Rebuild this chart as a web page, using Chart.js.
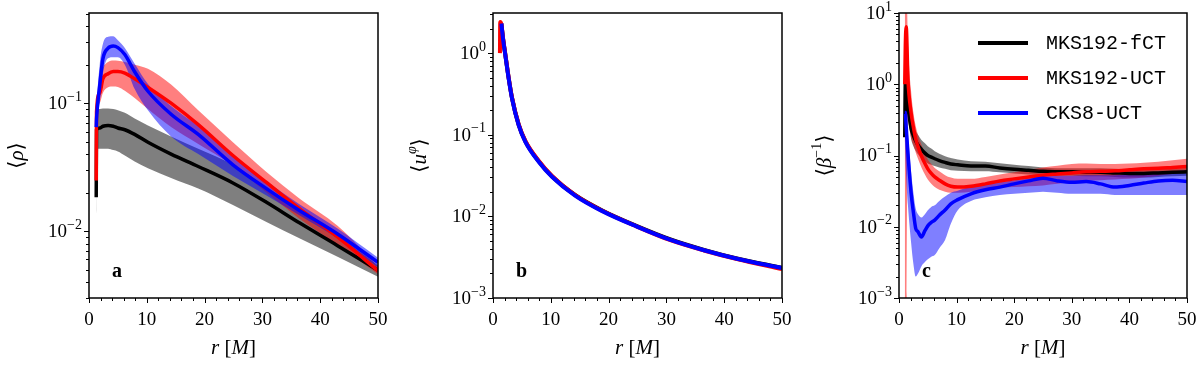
<!DOCTYPE html>
<html>
<head>
<meta charset="utf-8">
<script src="https://cdn.jsdelivr.net/npm/chart.js@4.4.0/dist/chart.umd.min.js"></script>
<style>
  html, body { margin: 0; padding: 0; background: #fff; }
  #wrap { position: relative; width: 1200px; height: 366px; }
  .panel { position: absolute; top: 0; width: 400px; height: 366px; }
</style>
</head>
<body>
<div id="wrap">
  <div class="panel" style="left:0"><canvas id="rhoChart"></canvas></div>
  <div class="panel" style="left:400px"><canvas id="uphiChart"></canvas></div>
  <div class="panel" style="left:800px"><canvas id="betaChart"></canvas></div>
</div>
<script>
// run names
const runNames = ["MKS192-fCT", "MKS192-UCT", "CKS8-UCT"];
const xTickLabels = [0, 10, 20, 30, 40, 50];

// panel a: <rho>
const rA = [1.25, 1.3, 1.85, 2.4, 3.3, 4.2, 5.0, 6.2, 7.9, 10.2, 14.2, 18.9, 24.9, 30.7, 36.4, 43, 50];
const rhoFct   = [0.0184, 0.062, 0.064, 0.066, 0.067, 0.066, 0.064, 0.062, 0.057, 0.0495, 0.04, 0.032, 0.0238, 0.0168, 0.0116, 0.0077, 0.00495];
const rhoFctHi = [0.09, 0.09, 0.09, 0.091, 0.091, 0.09, 0.088, 0.084, 0.076, 0.067, 0.055, 0.044, 0.033, 0.022, 0.0147, 0.0092, 0.0054];
const rhoFctLo = [0.0136, 0.044, 0.044, 0.044, 0.044, 0.043, 0.042, 0.039, 0.035, 0.031, 0.026, 0.0215, 0.016, 0.0118, 0.0088, 0.0063, 0.0044];
const rhoUct   = [0.0249, 0.085, 0.12, 0.155, 0.17, 0.177, 0.177, 0.172, 0.155, 0.133, 0.1, 0.068, 0.039, 0.024, 0.015, 0.009, 0.0049];
const rhoUctHi = [0.096, 0.096, 0.16, 0.19, 0.21, 0.216, 0.215, 0.21, 0.2, 0.186, 0.14, 0.088, 0.0495, 0.029, 0.018, 0.011, 0.0053];
const rhoUctLo = [0.0249, 0.07, 0.1, 0.12, 0.133, 0.135, 0.134, 0.125, 0.11, 0.09, 0.065, 0.048, 0.0326, 0.02, 0.0125, 0.0078, 0.0046];
const rhoCks   = [0.065, 0.075, 0.137, 0.222, 0.269, 0.28, 0.272, 0.24, 0.176, 0.124, 0.082, 0.057, 0.033, 0.0215, 0.0145, 0.0095, 0.0057];
const rhoCksHi = [0.07, 0.085, 0.2, 0.29, 0.33, 0.333, 0.31, 0.27, 0.203, 0.141, 0.095, 0.066, 0.038, 0.0245, 0.0162, 0.0105, 0.0062];
const rhoCksLo = [0.06, 0.065, 0.1, 0.17, 0.225, 0.229, 0.229, 0.2, 0.129, 0.088, 0.055, 0.04, 0.027, 0.019, 0.0133, 0.0088, 0.0052];

// panel b: <u^phi>
const rB = [1.2, 1.25, 1.45, 1.73, 2.13, 2.71, 3.29, 4.44, 5.6, 7.9, 10.2, 14.2, 18.9, 24.9, 30.7, 36.5, 42.2, 50];
const uphiFct = [null, null, 2.3, 1.52, 0.96, 0.495, 0.282, 0.133, 0.083, 0.0475, 0.031, 0.0183, 0.0118, 0.0076, 0.00522, 0.00389, 0.00305, 0.00234];
const uphiUct = [1.0, 2.4, 2.25, 1.53, 0.97, 0.5, 0.285, 0.134, 0.084, 0.048, 0.0313, 0.0182, 0.0117, 0.0075, 0.0051, 0.00382, 0.003, 0.00226];
const uphiCks = [null, null, 2.3, 1.5, 0.946, 0.489, 0.279, 0.131, 0.082, 0.0467, 0.0306, 0.018, 0.0116, 0.0075, 0.00515, 0.00385, 0.00303, 0.00233];

// panel c: <beta^-1>
const rC = [1.0, 1.1, 1.25, 1.55, 2.1, 2.5, 2.9, 3.3, 3.9, 4.5, 5.0, 5.6, 6.2, 7.0, 8.0, 9.0, 10.2, 12.5, 15, 17.5, 20, 22.5, 25, 27.5, 30, 32.5, 35, 37.5, 40, 42.5, 45, 47.5, 50];
const betaFct   = [0.18, 1.09, 1.0, 0.5, 0.24, 0.19, 0.16, 0.14, 0.122, 0.108, 0.1, 0.095, 0.09, 0.085, 0.08, 0.076, 0.074, 0.071, 0.071, 0.067, 0.064, 0.062, 0.06, 0.059, 0.059, 0.058, 0.058, 0.057, 0.056, 0.056, 0.057, 0.058, 0.059];
const betaFctHi = [0.18, 1.2, 1.1, 0.65, 0.33, 0.26, 0.22, 0.195, 0.165, 0.148, 0.135, 0.125, 0.115, 0.106, 0.098, 0.092, 0.088, 0.083, 0.082, 0.078, 0.074, 0.071, 0.068, 0.066, 0.066, 0.066, 0.066, 0.065, 0.064, 0.064, 0.065, 0.066, 0.067];
const betaFctLo = [0.15, 0.18, 0.6, 0.35, 0.17, 0.135, 0.117, 0.104, 0.092, 0.083, 0.077, 0.074, 0.071, 0.068, 0.065, 0.062, 0.061, 0.06, 0.06, 0.058, 0.056, 0.054, 0.053, 0.052, 0.052, 0.051, 0.051, 0.05, 0.049, 0.049, 0.05, 0.051, 0.052];
const betaUct   = [1.0, 3.5, 6.4, 1.2, 0.4, 0.25, 0.17, 0.133, 0.098, 0.077, 0.065, 0.056, 0.05, 0.045, 0.04, 0.037, 0.036, 0.037, 0.04, 0.044, 0.047, 0.05, 0.053, 0.055, 0.057, 0.059, 0.06, 0.061, 0.063, 0.065, 0.066, 0.068, 0.07];
const betaUctHi = [30, 30, 30, 4, 0.8, 0.4, 0.26, 0.195, 0.14, 0.105, 0.088, 0.076, 0.067, 0.06, 0.053, 0.049, 0.047, 0.047, 0.05, 0.054, 0.058, 0.063, 0.068, 0.072, 0.076, 0.077, 0.076, 0.076, 0.077, 0.079, 0.082, 0.086, 0.09];
const betaUctLo = [0.0001, 0.0001, 0.0001, 0.35, 0.18, 0.14, 0.11, 0.09, 0.068, 0.054, 0.046, 0.04, 0.036, 0.033, 0.031, 0.03, 0.03, 0.031, 0.033, 0.035, 0.036, 0.037, 0.038, 0.04, 0.042, 0.044, 0.045, 0.046, 0.047, 0.049, 0.052, 0.055, 0.058];
const betaCks   = [0.4, 0.4, 0.25, 0.107, 0.03, 0.016, 0.0095, 0.0085, 0.0072, 0.0088, 0.0103, 0.0115, 0.0124, 0.0145, 0.0172, 0.021, 0.024, 0.029, 0.033, 0.036, 0.04, 0.044, 0.048, 0.044, 0.042, 0.043, 0.04, 0.036, 0.038, 0.041, 0.044, 0.045, 0.043];
const betaCksHi = [0.45, 0.45, 0.35, 0.2, 0.06, 0.03, 0.018, 0.015, 0.0135, 0.015, 0.017, 0.019, 0.02, 0.023, 0.0265, 0.03, 0.032, 0.037, 0.04, 0.042, 0.045, 0.048, 0.052, 0.052, 0.052, 0.053, 0.053, 0.053, 0.055, 0.057, 0.059, 0.06, 0.062];
const betaCksLo = [0.15, 0.1, 0.05, 0.02, 0.006, 0.003, 0.002, 0.0022, 0.0028, 0.0032, 0.0035, 0.0038, 0.004, 0.005, 0.0065, 0.011, 0.017, 0.023, 0.026, 0.028, 0.029, 0.03, 0.031, 0.03, 0.029, 0.029, 0.029, 0.028, 0.028, 0.028, 0.028, 0.028, 0.028];

const lineColors = ["#000000", "#ff0000", "#0000ff"];
const bandColors = ["rgba(0,0,0,0.5)", "rgba(255,0,0,0.5)", "rgba(0,0,255,0.5)"];

const SERIF = '"Liberation Serif", "DejaVu Serif", serif';
const MONO = '"Liberation Mono", "DejaVu Sans Mono", monospace';

const pairs = (xs, ys) => xs.map((x, i) => ({ x, y: ys[i] })).filter(p => p.y !== null);

function buildDatasets(xs, series, lineWidth) {
    const sets = [];
    series.forEach((s, i) => {
        sets.push({
            label: runNames[i],
            data: pairs(xs, s.mid),
            borderColor: lineColors[i],
            borderWidth: lineWidth,
            borderJoinStyle: "round",
            pointRadius: 0,
            fill: false,
            order: 2 - i,
            cubicInterpolationMode: "monotone"
        });
    });
    series.forEach((s, i) => {
        if (!s.hi) return;
        const hiIndex = sets.length;
        sets.push({
            data: pairs(xs, s.hi),
            borderColor: "rgba(0,0,0,0)",
            borderWidth: 0,
            pointRadius: 0,
            backgroundColor: bandColors[i],
            fill: hiIndex + 1,
            order: 10 - i,
            cubicInterpolationMode: "monotone"
        });
        sets.push({
            data: pairs(xs, s.lo),
            borderColor: "rgba(0,0,0,0)",
            borderWidth: 0,
            pointRadius: 0,
            fill: false,
            order: 10 - i,
            cubicInterpolationMode: "monotone"
        });
    });
    return sets;
}

// draw a run of text pieces (mixed italic / superscripts)
function drawParts(ctx, parts, x, y, align) {
    const fontOf = p => `${p.bold ? "bold " : ""}${p.it ? "italic " : ""}${p.size}px ${p.fam || SERIF}`;
    let total = 0;
    parts.forEach(p => { ctx.font = fontOf(p); total += ctx.measureText(p.t).width + (p.gap || 0); });
    let cx = align === "center" ? x - total / 2 : align === "right" ? x - total : x;
    ctx.textAlign = "left";
    parts.forEach(p => {
        ctx.font = fontOf(p);
        ctx.fillText(p.t, cx, y + (p.dy || 0));
        cx += ctx.measureText(p.t).width + (p.gap || 0);
    });
}

const decoConfig = {
    rhoChart: {
        yTitle: [{ t: "⟨", size: 21 }, { t: "ρ", size: 21, it: true }, { t: "⟩", size: 21 }],
        yTitleX: 17, decades: [-2, -1], letter: "a"
    },
    uphiChart: {
        yTitle: [{ t: "⟨", size: 21 }, { t: "u", size: 21, it: true }, { t: "φ", size: 14, it: true, dy: -8 }, { t: "⟩", size: 21 }],
        yTitleX: 20, decades: [-3, -2, -1, 0], letter: "b"
    },
    betaChart: {
        yTitle: [{ t: "⟨", size: 21 }, { t: "β", size: 21, it: true }, { t: "−1", size: 14, dy: -8 }, { t: "⟩", size: 21 }],
        yTitleX: 25, decades: [-3, -2, -1, 0, 1], letter: "c", legend: true
    }
};

const decoPlugin = {
    id: "deco",
    afterDraw(chart) {
        const cfg = decoConfig[chart.canvas.id];
        const { ctx, chartArea: a, scales: { x, y } } = chart;
        const w = a.right - a.left, h = a.bottom - a.top;
        ctx.save();
        ctx.strokeStyle = "#000";
        ctx.fillStyle = "#000";
        ctx.textBaseline = "middle";

        // frame
        ctx.lineWidth = 1.5;
        ctx.strokeRect(a.left, a.top, w, h);

        // x ticks (major every 10, minor every 2)
        ctx.lineWidth = 1;
        ctx.beginPath();
        for (let v = 0; v <= 50; v += 2) {
            const px = Math.round(x.getPixelForValue(v)) + 0.5;
            const len = v % 10 === 0 ? 5 : 3;
            ctx.moveTo(px, a.bottom);
            ctx.lineTo(px, a.bottom + len);
        }
        // y ticks (log decades)
        const lo = Math.floor(Math.log10(y.min)), hi = Math.ceil(Math.log10(y.max));
        for (let e = lo; e <= hi; e++) {
            for (let m = 1; m <= 9; m++) {
                const v = m * Math.pow(10, e);
                if (v < y.min * 0.999 || v > y.max * 1.001) continue;
                const py = Math.round(y.getPixelForValue(v)) + 0.5;
                const len = m === 1 ? 5 : 3;
                ctx.moveTo(a.left, py);
                ctx.lineTo(a.left - len, py);
            }
        }
        ctx.stroke();

        // x tick labels
        ctx.font = `19px ${SERIF}`;
        ctx.textAlign = "center";
        xTickLabels.forEach(v => ctx.fillText(String(v), x.getPixelForValue(v), a.bottom + 22));

        // y tick labels 10^e
        cfg.decades.forEach(e => {
            const py = y.getPixelForValue(Math.pow(10, e));
            const ex = e < 0 ? "−" + Math.abs(e) : String(e);
            drawParts(ctx, [{ t: "10", size: 19 }, { t: ex, size: 14, dy: -7 }], a.left - 7, py + 1, "right");
        });

        // x title  r [M]
        drawParts(ctx, [{ t: "r", size: 21, it: true }, { t: " [", size: 21 }, { t: "M", size: 21, it: true }, { t: "]", size: 21 }],
            (a.left + a.right) / 2, 348, "center");

        // y title
        ctx.save();
        ctx.translate(cfg.yTitleX, (a.top + a.bottom) / 2);
        ctx.rotate(-Math.PI / 2);
        drawParts(ctx, cfg.yTitle, 0, 0, "center");
        ctx.restore();

        // panel letter
        ctx.textBaseline = "alphabetic";
        drawParts(ctx, [{ t: cfg.letter, size: 20, bold: true }], a.left + 0.08 * w, a.bottom - 0.075 * h, "left");

        // legend
        if (cfg.legend) {
            ctx.textBaseline = "middle";
            runNames.forEach((name, i) => {
                const ly = a.top + 30 + i * 35;
                ctx.strokeStyle = lineColors[i];
                ctx.lineWidth = 4;
                ctx.beginPath();
                ctx.moveTo(a.left + 79, ly);
                ctx.lineTo(a.left + 129, ly);
                ctx.stroke();
                ctx.fillStyle = "#000";
                ctx.font = `20px ${MONO}`;
                ctx.textAlign = "left";
                ctx.fillText(name, a.left + 147, ly + 1);
            });
        }
        ctx.restore();
    }
};

function makePanel(id, datasets, yMin, yMax, yWidth, padRight) {
    return new Chart(document.getElementById(id), {
        type: "line",
        data: { datasets },
        options: {
            responsive: true,
            maintainAspectRatio: false,
            animation: false,
            events: [],
            layout: { padding: { left: 0, right: padRight, top: 13, bottom: 0 } },
            scales: {
                x: {
                    type: "linear", min: 0, max: 50,
                    ticks: { display: false }, grid: { display: false }, border: { display: false },
                    afterFit: s => { s.height = 68; }
                },
                y: {
                    type: "logarithmic", min: yMin, max: yMax,
                    ticks: { display: false }, grid: { display: false }, border: { display: false },
                    afterFit: s => { s.width = yWidth; }
                }
            },
            plugins: { legend: { display: false }, tooltip: { enabled: false } }
        },
        plugins: [decoPlugin]
    });
}

makePanel("rhoChart", buildDatasets(rA, [
    { mid: rhoFct, hi: rhoFctHi, lo: rhoFctLo },
    { mid: rhoUct, hi: rhoUctHi, lo: rhoUctLo },
    { mid: rhoCks, hi: rhoCksHi, lo: rhoCksLo }
], 3.5), 0.003, 0.507, 89, 22);

makePanel("uphiChart", buildDatasets(rB, [
    { mid: uphiFct }, { mid: uphiUct }, { mid: uphiCks }
], 4), 0.001, 3.1, 93, 18);

makePanel("betaChart", buildDatasets(rC, [
    { mid: betaFct, hi: betaFctHi, lo: betaFctLo },
    { mid: betaUct, hi: betaUctHi, lo: betaUctLo },
    { mid: betaCks, hi: betaCksHi, lo: betaCksLo }
], 3.5), 0.001, 10, 99, 13);
</script>
</body>
</html>
